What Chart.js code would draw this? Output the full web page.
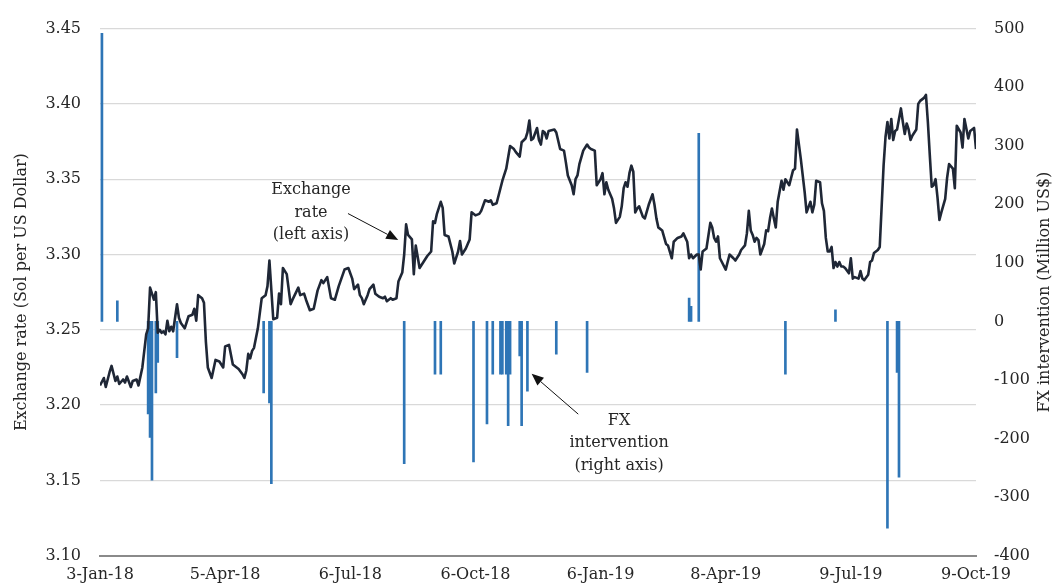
<!DOCTYPE html>
<html><head><meta charset="utf-8">
<script src="https://cdn.jsdelivr.net/npm/chart.js@4.4.1/dist/chart.umd.min.js"></script>
<style>html,body{margin:0;padding:0;background:#fff;}canvas{display:block;}</style>
</head><body>
<canvas id="c" width="1057" height="587"></canvas>
<script>
// x axis = trading-day index (0 = 3-Jan-18)
const tickLabels = ['3-Jan-18','5-Apr-18','6-Jul-18','6-Oct-18','6-Jan-19','8-Apr-19','9-Jul-19','9-Oct-19'];
const tickIdx = [0,65,130,195,260,325,390,455];

const rateIdx = [0,2,3,5,6,8,9,10,12,13,14,16,17,19,20,22,24,25,26,27,28,29,30,31,32,33,34,35,36,37,38,40,41,42,44,46,48,49,50,51,53,54,55,56,58,60,62,64,65,67,69,72,74,75,76,77,78,79,80,82,84,86,87,88,90,92,93,94,95,97,99,100,103,104,106,107,109,111,113,115,116,118,119,120,122,124,127,129,131,132,134,135,136,137,139,140,142,143,145,147,148,149,151,152,154,155,157,158,159,160,162,163,164,166,168,170,172,173,174,175,177,178,179,181,183,184,186,187,188,190,192,193,195,197,198,200,202,203,204,206,208,209,211,213,215,216,218,219,221,222,223,224,225,227,228,229,230,231,232,233,236,237,239,241,242,243,245,246,247,248,249,251,253,254,255,257,258,260,261,262,263,264,266,267,268,270,271,272,273,274,275,276,277,278,279,280,282,283,285,287,288,289,290,292,294,295,297,298,300,302,303,305,306,307,308,310,311,312,313,315,317,318,319,320,321,322,323,325,326,327,329,330,332,333,335,336,337,338,339,340,341,342,343,345,346,347,348,349,350,351,352,354,355,356,358,360,361,362,364,366,367,369,370,371,372,374,375,376,377,378,379,380,381,382,383,384,385,386,387,389,390,391,392,394,395,396,397,399,400,401,402,404,405,407,408,409,410,411,412,413,414,415,416,417,418,419,420,421,422,424,425,426,428,429,430,431,432,433,434,435,436,437,439,440,441,443,444,445,447,448,449,451,452,454,455];
const rateVal = [3.213,3.218,3.212,3.222,3.226,3.216,3.219,3.214,3.217,3.215,3.219,3.212,3.216,3.217,3.213,3.225,3.247,3.251,3.278,3.274,3.270,3.275,3.248,3.250,3.248,3.249,3.247,3.256,3.249,3.252,3.249,3.267,3.258,3.2545,3.251,3.259,3.260,3.264,3.256,3.273,3.271,3.268,3.242,3.225,3.218,3.230,3.229,3.225,3.239,3.240,3.227,3.224,3.2205,3.218,3.223,3.234,3.231,3.236,3.238,3.251,3.271,3.273,3.279,3.296,3.257,3.258,3.274,3.267,3.291,3.287,3.267,3.270,3.278,3.273,3.274,3.270,3.263,3.264,3.276,3.283,3.281,3.285,3.278,3.271,3.270,3.279,3.290,3.291,3.284,3.277,3.280,3.273,3.271,3.267,3.273,3.277,3.280,3.274,3.272,3.271,3.272,3.269,3.271,3.270,3.271,3.282,3.288,3.300,3.320,3.313,3.310,3.287,3.306,3.291,3.295,3.299,3.302,3.322,3.321,3.327,3.335,3.331,3.313,3.312,3.302,3.294,3.302,3.309,3.300,3.304,3.310,3.328,3.326,3.327,3.329,3.336,3.335,3.336,3.333,3.334,3.344,3.349,3.357,3.372,3.370,3.368,3.365,3.3745,3.377,3.381,3.389,3.376,3.377,3.384,3.376,3.373,3.382,3.381,3.377,3.382,3.383,3.381,3.370,3.369,3.361,3.3525,3.346,3.340,3.350,3.3525,3.360,3.369,3.373,3.371,3.370,3.369,3.346,3.350,3.354,3.340,3.348,3.343,3.337,3.3305,3.321,3.325,3.332,3.344,3.348,3.345,3.354,3.359,3.355,3.328,3.3305,3.332,3.325,3.324,3.333,3.340,3.333,3.324,3.318,3.316,3.307,3.306,3.2975,3.3085,3.311,3.312,3.314,3.3085,3.2975,3.300,3.2975,3.300,3.300,3.290,3.302,3.304,3.321,3.318,3.311,3.3085,3.312,3.2975,3.295,3.290,3.295,3.300,3.2975,3.296,3.300,3.303,3.306,3.314,3.329,3.316,3.313,3.3085,3.311,3.3096,3.300,3.307,3.316,3.3155,3.324,3.3305,3.324,3.318,3.335,3.349,3.343,3.350,3.346,3.356,3.357,3.383,3.3635,3.3415,3.328,3.335,3.328,3.333,3.349,3.348,3.334,3.329,3.311,3.302,3.302,3.305,3.291,3.295,3.292,3.295,3.292,3.292,3.291,3.2875,3.2975,3.284,3.285,3.284,3.289,3.284,3.283,3.2865,3.295,3.296,3.301,3.303,3.305,3.359,3.378,3.388,3.377,3.390,3.376,3.382,3.383,3.390,3.397,3.388,3.380,3.387,3.383,3.376,3.379,3.383,3.400,3.402,3.404,3.406,3.388,3.366,3.345,3.346,3.350,3.338,3.323,3.328,3.337,3.351,3.360,3.357,3.344,3.3855,3.381,3.371,3.390,3.377,3.382,3.384,3.370];

const fxIdx = [1,9,25,26,27,29,30,40,85,88,89,158,174,177,194,201,204,208,209,211,212,213,218,219,222,237,253,306,307,311,356,382,409,414,415];
const fxVal = [492,35,-158,-198,-271,-122,-70,-62,-122,-139,-277,-243,-90,-90,-240,-175,-90,-90,-90,-90,-178,-90,-59,-178,-119,-56,-87,40,26,321,-90,20,-353,-87,-266];

const leftTitle = 'Exchange rate (Sol per US Dollar)';
const rightTitle = 'FX intervention (Million US$)';
const notes = [
  {lines:['Exchange','rate','(left axis)'], at:[109.6,3.3428], from:[128.8,3.3272], to:[154.9,3.3096]},
  {lines:['FX','intervention','(right axis)'], at:[269.6,3.1896], from:[248.4,3.1940], to:[224.2,3.2208]}
];

const FONT = '"DejaVu Serif", "Liberation Serif", serif';
const TXT = '#262626';

const overlay = {
  id:'overlay',
  afterDraw(chart){
    const {ctx, scales:{x, y}, chartArea} = chart;
    ctx.save();
    ctx.fillStyle = TXT; ctx.strokeStyle = '#111';
    ctx.font = '16px ' + FONT;
    ctx.textAlign = 'center'; ctx.textBaseline = 'middle';
    notes.forEach(n => {
      const px = x.getPixelForValue(n.at[0]), py = y.getPixelForValue(n.at[1]);
      n.lines.forEach((t,i) => ctx.fillText(t, px, py + i*22.5));
      const x1 = x.getPixelForValue(n.from[0]), y1 = y.getPixelForValue(n.from[1]);
      const x2 = x.getPixelForValue(n.to[0]), y2 = y.getPixelForValue(n.to[1]);
      const a = Math.atan2(y2-y1, x2-x1), L = 12, W = 5;
      ctx.lineWidth = 1;
      ctx.beginPath(); ctx.moveTo(x1,y1); ctx.lineTo(x2 - L*Math.cos(a), y2 - L*Math.sin(a)); ctx.stroke();
      ctx.fillStyle = '#111';
      ctx.beginPath();
      ctx.moveTo(x2,y2);
      ctx.lineTo(x2 - L*Math.cos(a) + W*Math.sin(a), y2 - L*Math.sin(a) - W*Math.cos(a));
      ctx.lineTo(x2 - L*Math.cos(a) - W*Math.sin(a), y2 - L*Math.sin(a) + W*Math.cos(a));
      ctx.closePath(); ctx.fill();
      ctx.fillStyle = TXT;
    });
    ctx.translate(chart.width - 12, (chartArea.top + chartArea.bottom)/2);
    ctx.rotate(-Math.PI/2);
    ctx.fillText(rightTitle, 0, 0);
    ctx.restore();
  }
};

Chart.defaults.font.family = FONT;
Chart.defaults.font.size = 16;
Chart.defaults.color = TXT;

new Chart(document.getElementById('c'), {
  type:'bar',
  data:{datasets:[
    {type:'line', label:'Exchange rate', yAxisID:'y', order:0,
     data: rateIdx.map((d,i)=>({x:d, y:rateVal[i]})),
     borderColor:'#1f2736', borderWidth:2.6, pointRadius:0, tension:0, borderJoinStyle:'round', fill:false},
    {type:'bar', label:'FX intervention', yAxisID:'y2', order:1,
     data: fxIdx.map((d,i)=>({x:d, y:fxVal[i]})),
     backgroundColor:'#2e75b6', barThickness:2, grouped:false}
  ]},
  options:{
    responsive:false, animation:false, devicePixelRatio:1,
    layout:{padding:{top:25.7, left:0, right:0, bottom:0}},
    plugins:{legend:{display:false}, tooltip:{enabled:false}},
    scales:{
      x:{type:'linear', min:0, max:455, offset:false,
         grid:{display:false, drawTicks:false},
         border:{display:true, color:'#8a8a8a', width:2},
         ticks:{autoSkip:false, maxRotation:0, padding:10, font:{size:16},
                callback:(v)=>{const i = tickIdx.indexOf(v); return i>=0 ? tickLabels[i] : '';}},
         afterBuildTicks:(s)=>{ s.ticks = tickIdx.map(v=>({value:v})); },
         afterFit:(s)=>{ s.height = 31.3; }},
      y:{position:'left', min:3.10, max:3.45,
         ticks:{stepSize:0.05, padding:19, callback:(v)=>Number(v).toFixed(2)},
         grid:{color:'#d9d9d9', lineWidth:1.3, drawTicks:false},
         border:{display:false},
         title:{display:true, text:leftTitle, font:{size:16}, color:TXT, padding:{top:12, bottom:0}},
         afterFit:(s)=>{ s.width = 100; }},
      y2:{position:'right', min:-400, max:500,
         ticks:{stepSize:100, padding:18},
         grid:{display:false, drawTicks:false},
         border:{display:false},
         afterFit:(s)=>{ s.width = 81; }}
    }
  },
  plugins:[overlay]
});
</script>
</body></html>
